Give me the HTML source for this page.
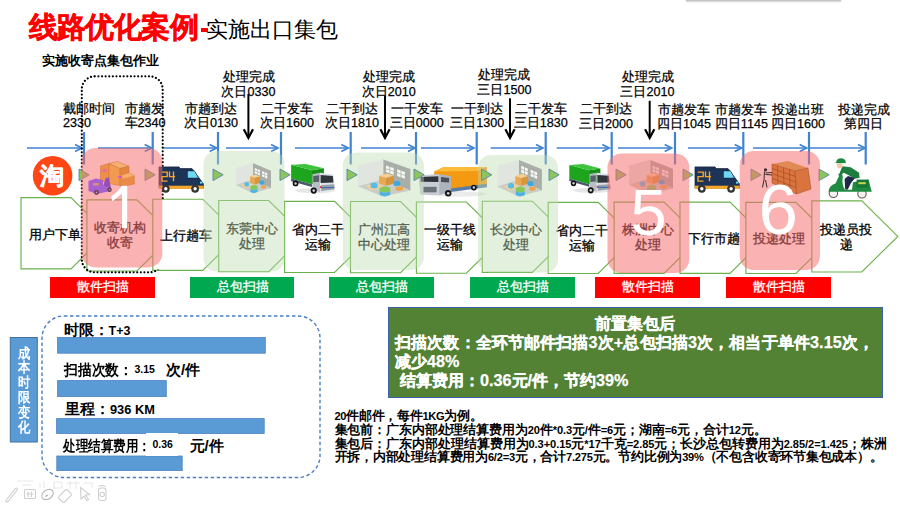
<!DOCTYPE html>
<html><head><meta charset="utf-8"><style>
html,body{margin:0;padding:0;background:#fff;}
body{width:900px;height:506px;position:relative;overflow:hidden;font-family:"Liberation Sans", sans-serif;color:#000;}
div{box-sizing:border-box}
.lbl{position:absolute;font-size:12.6px;line-height:14.2px;white-space:nowrap;color:#000;-webkit-text-stroke:0.25px #000}
.ct{position:absolute;font-size:13px;line-height:15px;-webkit-text-stroke:0.3px #000;text-align:center;display:flex;align-items:center;justify-content:center;white-space:nowrap;color:#000}
.bar{position:absolute;top:277px;height:21px;color:#fff;font-size:12.6px;line-height:20.5px;text-align:center;padding-left:1.5px;-webkit-text-stroke:0.3px #fff}
.num{position:absolute;color:#fff;font-size:56px;line-height:56px}
.vlab{position:absolute;left:10px;top:345.5px;width:28px;text-align:center;color:#fff;font-weight:bold;font-size:14px;line-height:14.85px;transform:scaleX(0.88)}
.pt{position:absolute;font-weight:bold;font-size:15px;line-height:18px;white-space:nowrap}
.lat{font-size:13px}
#gbox{position:absolute;left:388px;top:306.6px;width:495.2px;height:91.4px;background:#548235;border:1px solid #3a62a8;color:#fff;font-weight:bold;font-size:16.2px;line-height:19px;-webkit-text-stroke:0.25px #fff}
#notes{position:absolute;left:334.5px;top:410px;font-weight:bold;font-size:12.65px;line-height:13.8px;white-space:nowrap}
#notes>div{height:13.8px}
.n{font-size:11.1px}
svg{position:absolute;left:0;top:0}
</style></head><body>
<div style="position:absolute;left:28.8px;top:7px;white-space:nowrap;line-height:40px;color:#ff0000;font-weight:bold;font-size:28.5px;letter-spacing:-0.85px;-webkit-text-stroke:0.5px #ff0000">线路优化案例</div><div style="position:absolute;left:200.8px;top:28px;width:7.2px;height:3.5px;background:#ff0000"></div><div style="position:absolute;left:206px;top:10px;white-space:nowrap;line-height:40px;color:#000;font-size:21.5px">实施出口集包</div><div style="position:absolute;left:42px;top:52px;font-weight:bold;font-size:13.4px;line-height:18px;white-space:nowrap">实施收寄点集包作业</div><div class="lbl" style="left:63.1px;top:101.6px">截邮时间<br>2330</div><div class="lbl" style="left:124.5px;top:101.6px">市趟发<br>车2340</div><div class="lbl" style="left:171.0px;top:101.6px;width:80px;text-align:center">市趟到达<br>次日0130</div><div class="lbl" style="left:208.5px;top:70.3px;width:80px;text-align:center">处理完成<br>次日0330</div><div class="lbl" style="left:247.0px;top:101.6px;width:80px;text-align:center">二干发车<br>次日1600</div><div class="lbl" style="left:312.0px;top:101.6px;width:80px;text-align:center">二干到达<br>次日1810</div><div class="lbl" style="left:348.7px;top:70.3px;width:80px;text-align:center">处理完成<br>次日2010</div><div class="lbl" style="left:376.7px;top:101.6px;width:80px;text-align:center">一干发车<br>三日0000</div><div class="lbl" style="left:464.4px;top:68.3px;width:80px;text-align:center">处理完成<br>三日1500</div><div class="lbl" style="left:437.3px;top:102.1px;width:80px;text-align:center">一干到达<br>三日1300</div><div class="lbl" style="left:500.8px;top:102.1px;width:80px;text-align:center">二干发车<br>三日1830</div><div class="lbl" style="left:607.5px;top:70.3px;width:80px;text-align:center">处理完成<br>三日2010</div><div class="lbl" style="left:566.0px;top:102.3px;width:80px;text-align:center">二干到达<br>三日2000</div><div class="lbl" style="left:644.0px;top:102.6px;width:80px;text-align:center">市趟发车<br>四日1045</div><div class="lbl" style="left:701.4px;top:103.1px;width:80px;text-align:center">市趟发车<br>四日1145</div><div class="lbl" style="left:758.0px;top:103.1px;width:80px;text-align:center">投递出班<br>四日1600</div><div class="lbl" style="left:823.6px;top:103.1px;width:80px;text-align:center">投递完成<br>第四日</div>
<svg width="900" height="506" style="position:absolute;left:0;top:0"><polygon points="21.0,197.6 71.0,197.6 107.0,233.2 71.0,268.8 21.0,268.8" fill="#fff" stroke="#6cb24c" stroke-width="1.15"/><polygon points="86.9,199.8 136.9,199.8 172.9,235.4 136.9,271.0 86.9,271.0" fill="#fff" stroke="#6cb24c" stroke-width="1.15"/><polygon points="152.8,199.2 202.8,199.2 238.8,234.8 202.8,270.4 152.8,270.4" fill="#fff" stroke="#6cb24c" stroke-width="1.15"/><polygon points="218.7,200.5 268.7,200.5 304.7,236.1 268.7,271.7 218.7,271.7" fill="#fff" stroke="#6cb24c" stroke-width="1.15"/><polygon points="284.6,201.3 334.6,201.3 370.6,236.9 334.6,272.5 284.6,272.5" fill="#fff" stroke="#6cb24c" stroke-width="1.15"/><polygon points="350.5,201.5 400.5,201.5 436.5,237.1 400.5,272.7 350.5,272.7" fill="#fff" stroke="#6cb24c" stroke-width="1.15"/><polygon points="416.4,202.0 466.4,202.0 502.4,237.6 466.4,273.2 416.4,273.2" fill="#fff" stroke="#6cb24c" stroke-width="1.15"/><polygon points="482.3,201.2 532.3,201.2 568.3,236.8 532.3,272.4 482.3,272.4" fill="#fff" stroke="#6cb24c" stroke-width="1.15"/><polygon points="548.2,202.3 598.2,202.3 634.2,237.9 598.2,273.5 548.2,273.5" fill="#fff" stroke="#6cb24c" stroke-width="1.15"/><polygon points="614.1,202.1 664.1,202.1 700.1,237.7 664.1,273.3 614.1,273.3" fill="#fff" stroke="#6cb24c" stroke-width="1.15"/><polygon points="680.0,202.1 730.0,202.1 766.0,237.7 730.0,273.3 680.0,273.3" fill="#fff" stroke="#6cb24c" stroke-width="1.15"/><polygon points="745.9,202.3 795.9,202.3 831.9,237.9 795.9,273.5 745.9,273.5" fill="#fff" stroke="#6cb24c" stroke-width="1.15"/><polygon points="811.8,200.8 861.8,200.8 897.8,236.4 861.8,272.0 811.8,272.0" fill="#fff" stroke="#6cb24c" stroke-width="1.15"/><line x1="27" y1="148" x2="82" y2="148" stroke="#3f83d1" stroke-width="1.7"/><polyline points="75,144.4 82,148 75,151.6" fill="none" stroke="#3f83d1" stroke-width="1.7"/><line x1="98" y1="148" x2="151.7" y2="148" stroke="#3f83d1" stroke-width="1.7"/><polyline points="144.7,144.4 151.7,148 144.7,151.6" fill="none" stroke="#3f83d1" stroke-width="1.7"/><line x1="163" y1="148" x2="216.7" y2="148" stroke="#3f83d1" stroke-width="1.7"/><polyline points="209.7,144.4 216.7,148 209.7,151.6" fill="none" stroke="#3f83d1" stroke-width="1.7"/><line x1="226" y1="148" x2="278" y2="148" stroke="#3f83d1" stroke-width="1.7"/><polyline points="271,144.4 278,148 271,151.6" fill="none" stroke="#3f83d1" stroke-width="1.7"/><line x1="295" y1="148" x2="348.3" y2="148" stroke="#3f83d1" stroke-width="1.7"/><polyline points="341.3,144.4 348.3,148 341.3,151.6" fill="none" stroke="#3f83d1" stroke-width="1.7"/><line x1="361" y1="148" x2="415" y2="148" stroke="#3f83d1" stroke-width="1.7"/><polyline points="408,144.4 415,148 408,151.6" fill="none" stroke="#3f83d1" stroke-width="1.7"/><line x1="421" y1="148" x2="474" y2="148" stroke="#3f83d1" stroke-width="1.7"/><polyline points="467,144.4 474,148 467,151.6" fill="none" stroke="#3f83d1" stroke-width="1.7"/><line x1="490.7" y1="148" x2="543" y2="148" stroke="#3f83d1" stroke-width="1.7"/><polyline points="536,144.4 543,148 536,151.6" fill="none" stroke="#3f83d1" stroke-width="1.7"/><line x1="556.7" y1="148" x2="609.3" y2="148" stroke="#3f83d1" stroke-width="1.7"/><polyline points="602.3,144.4 609.3,148 602.3,151.6" fill="none" stroke="#3f83d1" stroke-width="1.7"/><line x1="618" y1="148" x2="671.7" y2="148" stroke="#3f83d1" stroke-width="1.7"/><polyline points="664.7,144.4 671.7,148 664.7,151.6" fill="none" stroke="#3f83d1" stroke-width="1.7"/><line x1="688" y1="148" x2="741.7" y2="148" stroke="#3f83d1" stroke-width="1.7"/><polyline points="734.7,144.4 741.7,148 734.7,151.6" fill="none" stroke="#3f83d1" stroke-width="1.7"/><line x1="753" y1="148" x2="806.7" y2="148" stroke="#3f83d1" stroke-width="1.7"/><polyline points="799.7,144.4 806.7,148 799.7,151.6" fill="none" stroke="#3f83d1" stroke-width="1.7"/><line x1="810" y1="148" x2="865" y2="148" stroke="#3f83d1" stroke-width="1.7"/><polyline points="858,144.4 865,148 858,151.6" fill="none" stroke="#3f83d1" stroke-width="1.7"/><line x1="84" y1="132" x2="84" y2="164.5" stroke="#3f83d1" stroke-width="2.2"/><line x1="152.7" y1="132" x2="152.7" y2="164.5" stroke="#3f83d1" stroke-width="2.2"/><line x1="218" y1="132" x2="218" y2="164.5" stroke="#3f83d1" stroke-width="2.2"/><line x1="281" y1="132" x2="281" y2="164.5" stroke="#3f83d1" stroke-width="2.2"/><line x1="350.7" y1="132" x2="350.7" y2="164.5" stroke="#3f83d1" stroke-width="2.2"/><line x1="416" y1="132" x2="416" y2="164.5" stroke="#3f83d1" stroke-width="2.2"/><line x1="476.7" y1="132" x2="476.7" y2="164.5" stroke="#3f83d1" stroke-width="2.2"/><line x1="545.7" y1="132" x2="545.7" y2="164.5" stroke="#3f83d1" stroke-width="2.2"/><line x1="611.7" y1="132" x2="611.7" y2="164.5" stroke="#3f83d1" stroke-width="2.2"/><line x1="675" y1="132" x2="675" y2="164.5" stroke="#3f83d1" stroke-width="2.2"/><line x1="743.3" y1="132" x2="743.3" y2="164.5" stroke="#3f83d1" stroke-width="2.2"/><line x1="809" y1="132" x2="809" y2="164.5" stroke="#3f83d1" stroke-width="2.2"/><line x1="865.7" y1="132" x2="865.7" y2="164.5" stroke="#3f83d1" stroke-width="2.2"/><line x1="248.4" y1="94" x2="248.4" y2="137.5" stroke="#000" stroke-width="2"/><polyline points="243.8,129.2 248.4,138.0 253.0,129.2" fill="none" stroke="#000" stroke-width="2.2"/><line x1="385" y1="95.8" x2="385" y2="137.5" stroke="#000" stroke-width="2"/><polyline points="380.4,129.2 385,138.0 389.6,129.2" fill="none" stroke="#000" stroke-width="2.2"/><line x1="510" y1="98.3" x2="510" y2="137.5" stroke="#000" stroke-width="2"/><polyline points="505.4,129.2 510,138.0 514.6,129.2" fill="none" stroke="#000" stroke-width="2.2"/><line x1="649.7" y1="100.8" x2="649.7" y2="137.5" stroke="#000" stroke-width="2"/><polyline points="645.1,129.2 649.7,138.0 654.3000000000001,129.2" fill="none" stroke="#000" stroke-width="2.2"/><mask id="dm"><rect x="0" y="0" width="900" height="506" fill="#fff"/><rect x="153.5" y="199.3" width="65" height="70.3" fill="#000"/></mask><rect x="81.8" y="76.3" width="80.9" height="196" rx="13" fill="none" stroke="#000" stroke-width="2.2" stroke-dasharray="0.01 3.6" stroke-linecap="round" mask="url(#dm)"/><g transform="translate(418.4,166.6) scale(0.6850,0.6864)"><ellipse cx="55" cy="40" rx="45" ry="4" fill="#d8d8d8" opacity="0.5"/><polygon points="23,7 37,0.6 100,0.6 100,27 47,35 23,33" fill="#f39a12"/><polygon points="23,7 37,0.6 100,0.6 86,6.5" fill="#fdbb3a"/><polygon points="47,32 100,25 100,30 47,37" fill="#5a7ca6"/><polygon points="0,13 30.5,11 47.4,13.6 47.4,37.6 30.5,41.5 3.2,40.2" fill="#aeb4bd"/><polygon points="0,13 30.5,11 30.5,41.5 3.2,40.2" fill="#c9ced5"/><polygon points="3.2,15 29.2,14 29.2,22.5 3.2,22" fill="#30343c"/><rect x="7" y="29.5" width="19.6" height="8" fill="#6c727a"/><polygon points="33,15 44.8,16.5 44.8,23 33,22.5" fill="#4a5058"/><circle cx="43.5" cy="38.9" r="4.7" fill="#151515"/><circle cx="43.5" cy="38.9" r="2" fill="#ccc"/><circle cx="81" cy="30.5" r="4.2" fill="#151515"/><circle cx="81" cy="30.5" r="1.8" fill="#ccc"/></g></svg>
<div class="ct" style="left:14.5px;top:219.0px;height:30px;width:80px">用户下单</div><div class="ct" style="left:80.4px;top:220.2px;height:30px;width:80px">收寄机构<br>收寄</div><div class="ct" style="left:146.3px;top:220.3px;height:30px;width:80px">上行趟车</div><div class="ct" style="left:212.2px;top:221.2px;height:30px;width:80px">东莞中心<br>处理</div><div class="ct" style="left:278.1px;top:222.1px;height:30px;width:80px">省内二干<br>运输</div><div class="ct" style="left:344.0px;top:221.7px;height:30px;width:80px">广州江高<br>中心处理</div><div class="ct" style="left:409.9px;top:222.4px;height:30px;width:80px">一级干线<br>运输</div><div class="ct" style="left:475.8px;top:221.7px;height:30px;width:80px">长沙中心<br>处理</div><div class="ct" style="left:541.7px;top:222.5px;height:30px;width:80px">省内二干<br>运输</div><div class="ct" style="left:607.6px;top:222.0px;height:30px;width:80px">株洲中心<br>处理</div><div class="ct" style="left:673.5px;top:223.6px;height:30px;width:80px">下行市趟</div><div class="ct" style="left:739.4px;top:223.8px;height:30px;width:80px">投递处理</div><div class="ct" style="left:806.3px;top:222.0px;height:30px;width:80px">投递员投<br>递</div>
<svg width="900" height="506" style="position:absolute;left:0;top:0"><rect x="203.5" y="151" width="81.1" height="120.5" rx="13" fill="rgb(191,219,176)" fill-opacity="0.42"/><rect x="342.8" y="152.5" width="81.1" height="117.5" rx="13" fill="rgb(191,219,176)" fill-opacity="0.42"/><rect x="478" y="155" width="80.0" height="117.5" rx="13" fill="rgb(191,219,176)" fill-opacity="0.42"/></svg>
<svg width="900" height="506" style="position:absolute;left:0;top:0"><polygon points="79,169 89.2,174.8 79,180.6" fill="#8cc55c" stroke="#5a86a8" stroke-width="0.9"/><polygon points="145,169 155.2,174.8 145,180.6" fill="#8cc55c" stroke="#5a86a8" stroke-width="0.9"/><polygon points="213,169 223.2,174.8 213,180.6" fill="#8cc55c" stroke="#5a86a8" stroke-width="0.9"/><polygon points="280,169 290.2,174.8 280,180.6" fill="#8cc55c" stroke="#5a86a8" stroke-width="0.9"/><polygon points="347,169 357.2,174.8 347,180.6" fill="#8cc55c" stroke="#5a86a8" stroke-width="0.9"/><polygon points="414,169 424.2,174.8 414,180.6" fill="#8cc55c" stroke="#5a86a8" stroke-width="0.9"/><polygon points="481.6,169 491.8,174.8 481.6,180.6" fill="#8cc55c" stroke="#5a86a8" stroke-width="0.9"/><polygon points="549,169 559.2,174.8 549,180.6" fill="#8cc55c" stroke="#5a86a8" stroke-width="0.9"/><polygon points="616,169 626.2,174.8 616,180.6" fill="#8cc55c" stroke="#5a86a8" stroke-width="0.9"/><polygon points="683,169 693.2,174.8 683,180.6" fill="#8cc55c" stroke="#5a86a8" stroke-width="0.9"/><polygon points="751,169 761.2,174.8 751,180.6" fill="#8cc55c" stroke="#5a86a8" stroke-width="0.9"/><polygon points="819,169 829.2,174.8 819,180.6" fill="#8cc55c" stroke="#5a86a8" stroke-width="0.9"/><g transform="translate(235.6,163) scale(0.3540,0.3775)"><polygon points="1,13 48,0 48,50 1,58" fill="#e1e5df"/><polygon points="49,0 100,20.5 100,67 49,43" fill="#a9aea8"/><polygon points="1,58 49,43 100,67 48,80" fill="#c9cdc7"/><polygon points="54,13.0 60.5,15.6 60.5,22.0 54,19.4" fill="#f6f8f4"/><polygon points="54,21.0 60.5,23.6 60.5,30.0 54,27.4" fill="#f6f8f4"/><polygon points="62,16.2 68.5,18.8 68.5,25.2 62,22.6" fill="#f6f8f4"/><polygon points="62,24.2 68.5,26.8 68.5,33.2 62,30.6" fill="#f6f8f4"/><polygon points="75,21.5 81.5,24.1 81.5,30.5 75,27.9" fill="#f6f8f4"/><polygon points="75,29.5 81.5,32.1 81.5,38.5 75,35.9" fill="#f6f8f4"/><polygon points="83,24.7 89.5,27.3 89.5,33.7 83,31.1" fill="#f6f8f4"/><polygon points="83,32.7 89.5,35.300000000000004 89.5,41.7 83,39.1" fill="#f6f8f4"/><polygon points="15,57 38,51 50,60 27,67" fill="#f3d09a"/><polygon points="41,35 56,30.5 69,35.5 54,40" fill="#f7cf90"/><polygon points="41,35 54,40 54,57 41,52" fill="#eaa850"/><polygon points="54,40 69,35.5 69,52 54,57" fill="#d8953e"/><polygon points="25,52 32,50 38,52.5 38,61 31,63 25,60.5" fill="#55bde9"/><polygon points="68,48 75,46 81,48.5 81,56 74,58 68,55.5" fill="#3ba9df"/><polygon points="72,60 80,58 86,60 86,66 78,68 72,66" fill="#eda44a"/><polygon points="42,61 52,58 62,61 62,69 52,72 42,69" fill="#86c95a"/><polygon points="42,69 52,72 62,69 62,77 52,80 42,77" fill="#4db3e3"/></g><g transform="translate(357.4,159.4) scale(0.5300,0.4637)"><polygon points="1,13 48,0 48,50 1,58" fill="#e1e5df"/><polygon points="49,0 100,20.5 100,67 49,43" fill="#a9aea8"/><polygon points="1,58 49,43 100,67 48,80" fill="#c9cdc7"/><polygon points="54,13.0 60.5,15.6 60.5,22.0 54,19.4" fill="#f6f8f4"/><polygon points="54,21.0 60.5,23.6 60.5,30.0 54,27.4" fill="#f6f8f4"/><polygon points="62,16.2 68.5,18.8 68.5,25.2 62,22.6" fill="#f6f8f4"/><polygon points="62,24.2 68.5,26.8 68.5,33.2 62,30.6" fill="#f6f8f4"/><polygon points="75,21.5 81.5,24.1 81.5,30.5 75,27.9" fill="#f6f8f4"/><polygon points="75,29.5 81.5,32.1 81.5,38.5 75,35.9" fill="#f6f8f4"/><polygon points="83,24.7 89.5,27.3 89.5,33.7 83,31.1" fill="#f6f8f4"/><polygon points="83,32.7 89.5,35.300000000000004 89.5,41.7 83,39.1" fill="#f6f8f4"/><polygon points="15,57 38,51 50,60 27,67" fill="#f3d09a"/><polygon points="41,35 56,30.5 69,35.5 54,40" fill="#f7cf90"/><polygon points="41,35 54,40 54,57 41,52" fill="#eaa850"/><polygon points="54,40 69,35.5 69,52 54,57" fill="#d8953e"/><polygon points="25,52 32,50 38,52.5 38,61 31,63 25,60.5" fill="#55bde9"/><polygon points="68,48 75,46 81,48.5 81,56 74,58 68,55.5" fill="#3ba9df"/><polygon points="72,60 80,58 86,60 86,66 78,68 72,66" fill="#eda44a"/><polygon points="42,61 52,58 62,61 62,69 52,72 42,69" fill="#86c95a"/><polygon points="42,69 52,72 62,69 62,77 52,80 42,77" fill="#4db3e3"/></g><g transform="translate(496.9,159.9) scale(0.4500,0.4575)"><polygon points="1,13 48,0 48,50 1,58" fill="#e1e5df"/><polygon points="49,0 100,20.5 100,67 49,43" fill="#a9aea8"/><polygon points="1,58 49,43 100,67 48,80" fill="#c9cdc7"/><polygon points="54,13.0 60.5,15.6 60.5,22.0 54,19.4" fill="#f6f8f4"/><polygon points="54,21.0 60.5,23.6 60.5,30.0 54,27.4" fill="#f6f8f4"/><polygon points="62,16.2 68.5,18.8 68.5,25.2 62,22.6" fill="#f6f8f4"/><polygon points="62,24.2 68.5,26.8 68.5,33.2 62,30.6" fill="#f6f8f4"/><polygon points="75,21.5 81.5,24.1 81.5,30.5 75,27.9" fill="#f6f8f4"/><polygon points="75,29.5 81.5,32.1 81.5,38.5 75,35.9" fill="#f6f8f4"/><polygon points="83,24.7 89.5,27.3 89.5,33.7 83,31.1" fill="#f6f8f4"/><polygon points="83,32.7 89.5,35.300000000000004 89.5,41.7 83,39.1" fill="#f6f8f4"/><polygon points="15,57 38,51 50,60 27,67" fill="#f3d09a"/><polygon points="41,35 56,30.5 69,35.5 54,40" fill="#f7cf90"/><polygon points="41,35 54,40 54,57 41,52" fill="#eaa850"/><polygon points="54,40 69,35.5 69,52 54,57" fill="#d8953e"/><polygon points="25,52 32,50 38,52.5 38,61 31,63 25,60.5" fill="#55bde9"/><polygon points="68,48 75,46 81,48.5 81,56 74,58 68,55.5" fill="#3ba9df"/><polygon points="72,60 80,58 86,60 86,66 78,68 72,66" fill="#eda44a"/><polygon points="42,61 52,58 62,61 62,69 52,72 42,69" fill="#86c95a"/><polygon points="42,69 52,72 62,69 62,77 52,80 42,77" fill="#4db3e3"/></g><g transform="translate(628.5,160) scale(0.4450,0.4250)"><polygon points="1,13 48,0 48,50 1,58" fill="#e1e5df"/><polygon points="49,0 100,20.5 100,67 49,43" fill="#a9aea8"/><polygon points="1,58 49,43 100,67 48,80" fill="#c9cdc7"/><polygon points="54,13.0 60.5,15.6 60.5,22.0 54,19.4" fill="#f6f8f4"/><polygon points="54,21.0 60.5,23.6 60.5,30.0 54,27.4" fill="#f6f8f4"/><polygon points="62,16.2 68.5,18.8 68.5,25.2 62,22.6" fill="#f6f8f4"/><polygon points="62,24.2 68.5,26.8 68.5,33.2 62,30.6" fill="#f6f8f4"/><polygon points="75,21.5 81.5,24.1 81.5,30.5 75,27.9" fill="#f6f8f4"/><polygon points="75,29.5 81.5,32.1 81.5,38.5 75,35.9" fill="#f6f8f4"/><polygon points="83,24.7 89.5,27.3 89.5,33.7 83,31.1" fill="#f6f8f4"/><polygon points="83,32.7 89.5,35.300000000000004 89.5,41.7 83,39.1" fill="#f6f8f4"/><polygon points="15,57 38,51 50,60 27,67" fill="#f3d09a"/><polygon points="41,35 56,30.5 69,35.5 54,40" fill="#f7cf90"/><polygon points="41,35 54,40 54,57 41,52" fill="#eaa850"/><polygon points="54,40 69,35.5 69,52 54,57" fill="#d8953e"/><polygon points="25,52 32,50 38,52.5 38,61 31,63 25,60.5" fill="#55bde9"/><polygon points="68,48 75,46 81,48.5 81,56 74,58 68,55.5" fill="#3ba9df"/><polygon points="72,60 80,58 86,60 86,66 78,68 72,66" fill="#eda44a"/><polygon points="42,61 52,58 62,61 62,69 52,72 42,69" fill="#86c95a"/><polygon points="42,69 52,72 62,69 62,77 52,80 42,77" fill="#4db3e3"/></g><g transform="translate(290.7,163.9) scale(0.4430,0.4448)"><ellipse cx="55" cy="60" rx="45" ry="6" fill="#d4d4d4" opacity="0.55"/><polygon points="1,2 48,14 48,46 1,33" fill="#1ea51e"/><polygon points="48,14 75,10 75,40 48,46" fill="#178f17"/><polygon points="1,2 34,0 75,10 48,14" fill="#3cc43c"/><polygon points="1,33 48,46 48,52 1,39" fill="#4b586c"/><polygon points="49,23 66,20 66,64 49,56" fill="#b9bec6"/><polygon points="66,20 96,23 100,56 68,64" fill="#dfe2e7"/><polygon points="51,27 64,25.5 64,40 51,41" fill="#5a6069"/><polygon points="67.5,25 95,27 96.5,42 68,43" fill="#30353d"/><polygon points="68,48 98,46 99,57 69,61" fill="#9aa0a8"/><rect x="68" y="52" width="30" height="2.5" fill="#3b6ab5"/><rect x="66" y="50" width="3" height="4" fill="#e03030"/><circle cx="11" cy="44" r="6.5" fill="#111"/><circle cx="11" cy="44" r="2.8" fill="#d0d0d0"/><circle cx="52" cy="60" r="7" fill="#111"/><circle cx="52" cy="60" r="3" fill="#d0d0d0"/></g><g transform="translate(568.9,164) scale(0.4200,0.4388)"><ellipse cx="55" cy="60" rx="45" ry="6" fill="#d4d4d4" opacity="0.55"/><polygon points="1,2 48,14 48,46 1,33" fill="#1ea51e"/><polygon points="48,14 75,10 75,40 48,46" fill="#178f17"/><polygon points="1,2 34,0 75,10 48,14" fill="#3cc43c"/><polygon points="1,33 48,46 48,52 1,39" fill="#4b586c"/><polygon points="49,23 66,20 66,64 49,56" fill="#b9bec6"/><polygon points="66,20 96,23 100,56 68,64" fill="#dfe2e7"/><polygon points="51,27 64,25.5 64,40 51,41" fill="#5a6069"/><polygon points="67.5,25 95,27 96.5,42 68,43" fill="#30353d"/><polygon points="68,48 98,46 99,57 69,61" fill="#9aa0a8"/><rect x="68" y="52" width="30" height="2.5" fill="#3b6ab5"/><rect x="66" y="50" width="3" height="4" fill="#e03030"/><circle cx="11" cy="44" r="6.5" fill="#111"/><circle cx="11" cy="44" r="2.8" fill="#d0d0d0"/><circle cx="52" cy="60" r="7" fill="#111"/><circle cx="52" cy="60" r="3" fill="#d0d0d0"/></g><g transform="translate(159,166.6)"><polygon points="0,0.3 20,0.3 21.5,2 33,2 44.3,17 44.5,21.5 0,21.5" fill="#1c3458" stroke="#101e33" stroke-width="0.7"/><polygon points="28.5,4.3 35.5,4.3 39.5,11.5 28.5,11.5" fill="#6fd8f3" stroke="#101e33" stroke-width="0.5"/><rect x="-0.3" y="19.1" width="45" height="3.2" fill="#f4a62a"/><path d="M2.8,5.5 H8.2 V10 H3 V14.5 H8.5 M10.5,5 V10 H16 M14.5,5 V14.6" fill="none" stroke="#f4a62a" stroke-width="1.4"/><circle cx="6.8" cy="22.2" r="3.9" fill="#333"/><circle cx="6.8" cy="22.2" r="1.7" fill="#fff"/><circle cx="36.1" cy="22.2" r="3.9" fill="#333"/><circle cx="36.1" cy="22.2" r="1.7" fill="#fff"/><rect x="41" y="15" width="2.5" height="2" fill="#6fd8f3"/></g><g transform="translate(695,166.6)"><polygon points="0,0.3 20,0.3 21.5,2 33,2 44.3,17 44.5,21.5 0,21.5" fill="#1c3458" stroke="#101e33" stroke-width="0.7"/><polygon points="28.5,4.3 35.5,4.3 39.5,11.5 28.5,11.5" fill="#6fd8f3" stroke="#101e33" stroke-width="0.5"/><rect x="-0.3" y="19.1" width="45" height="3.2" fill="#f4a62a"/><path d="M2.8,5.5 H8.2 V10 H3 V14.5 H8.5 M10.5,5 V10 H16 M14.5,5 V14.6" fill="none" stroke="#f4a62a" stroke-width="1.4"/><circle cx="6.8" cy="22.2" r="3.9" fill="#333"/><circle cx="6.8" cy="22.2" r="1.7" fill="#fff"/><circle cx="36.1" cy="22.2" r="3.9" fill="#333"/><circle cx="36.1" cy="22.2" r="1.7" fill="#fff"/><rect x="41" y="15" width="2.5" height="2" fill="#6fd8f3"/></g><circle cx="52.6" cy="175.7" r="19.8" fill="#ff4614"/><text x="52.4" y="184" text-anchor="middle" font-weight="bold" font-size="23.5" fill="#fff" stroke="#fff" stroke-width="0.55" stroke-linejoin="round">淘</text><g><circle cx="833.4" cy="193.3" r="4.2" fill="#f2f2f2" stroke="#6d5a52" stroke-width="1.1"/><circle cx="862" cy="193.8" r="4.2" fill="#f2f2f2" stroke="#6d5a52" stroke-width="1.1"/><path d="M828.5,191.8 Q829,185.5 835.5,183.5 L839,176 L838.2,174 L841.8,173.6 L842.8,176.5 Q841.5,185 845,189.8 L852,189.8 L853,182.3 L868.5,179.5 L871.8,191.8 Z" fill="#1f8b41"/><rect x="856.6" y="179.6" width="11.8" height="8" fill="#17773a"/><rect x="858.3" y="182.2" width="7.5" height="2" fill="#c9d64a"/><path d="M842.3,166.3 L850.7,167.3 L859.1,172.7 L859.6,177.7 L854.7,178.7 L848.7,175.2 L843.8,172.7 L840,175.5 L839.2,174.2 Z" fill="#1c7d3e"/><path d="M848,176 L855,178 L851,183 L847.8,189.5 L845.2,189.5 L844.6,179 Z" fill="#1d2747"/><path d="M836.4,164 L842.3,163.6 L842.5,167.5 L838,168.5 Z" fill="#f0c7a2"/><path d="M836,162.6 Q836.5,158.2 841.5,158.3 Q846,158.8 845.8,163 L838,163.3 L834.5,162.8 Z" fill="#1b8b3e"/></g></svg>
<svg width="900" height="506" style="position:absolute;left:0;top:0"><rect x="81.4" y="148" width="80.9" height="119.4" rx="14" fill="rgb(245,110,110)" fill-opacity="0.53"/><rect x="607.5" y="153.5" width="81.8" height="119.5" rx="14" fill="rgb(245,110,110)" fill-opacity="0.53"/><rect x="739.7" y="151" width="80.3" height="119.0" rx="14" fill="rgb(245,110,110)" fill-opacity="0.53"/><g><polygon points="100.5,166 109,163.5 109,183.5 100.5,181" fill="#ec8f48" stroke="#d0703a" stroke-width="0.5"/><polygon points="109,163.5 120,168.5 120,185.5 109,183.5" fill="#f29a52" stroke="#d0703a" stroke-width="0.5"/><polygon points="109,163.5 117.5,161.5 129,166.3 120,168.5" fill="#f6b070" stroke="#d0703a" stroke-width="0.5"/><polygon points="120,168.5 129,166.3 129,173 120,176" fill="#e5843f" stroke="#d0703a" stroke-width="0.5"/><polygon points="120,176 129,173 134.3,175.5 134.3,184 123,186.5 120,185.5" fill="#ea8c48" stroke="#d0703a" stroke-width="0.5"/><polygon points="120,176 129,173 134.3,175.5 124,178.5" fill="#f5ad70"/><rect x="102.5" y="169" width="4" height="3" fill="#e86aa0"/><rect x="118" y="176" width="4" height="2" fill="#d860b0"/><polygon points="88.5,181 96,178.5 103,180 103,186 111,188.5 110,191 97,194 88.5,191" fill="#a660cf"/><polygon points="103,186 106,178 109,177.5 111,188.5" fill="#9450b8"/><rect x="93" y="183" width="6" height="2.5" fill="#d98a8a"/><circle cx="96.5" cy="192.5" r="2.4" fill="#6a3a50"/><circle cx="96.5" cy="192.5" r="0.9" fill="#d0a0b0"/><circle cx="109.5" cy="189.8" r="2.2" fill="#6a3a50"/><circle cx="109.5" cy="189.8" r="0.8" fill="#d0a0b0"/></g><g><polygon points="772,164 788,161 808,168 795,171" fill="#e28a55"/><polygon points="772,164 795,171 796.5,194 772,183" fill="#dc7440" stroke="#9c4a22" stroke-width="0.5"/><polygon points="795,171 808,168 811,189 796.5,194" fill="#d9743e" stroke="#9c4a22" stroke-width="0.5"/><path d="M777.5,165.7 L778,185.5 M783.5,167.5 L784,188.3 M789.5,169.2 L790,191 M772,168.5 L795.5,176.5 M772,173.5 L795.8,182 M772,178.3 L796,187.5" stroke="#a85228" stroke-width="0.8" fill="none"/><circle cx="765.5" cy="169.8" r="1.6" fill="#3a2a2a"/><path d="M764.5,171.5 L764,180 L762.5,187.5 M765.5,180 L767,187.5 M765.5,173 L772,172.5 M765.5,174.5 L772,175" fill="none" stroke="#3a2a2a" stroke-width="1"/></g></svg>
<div class="num" style="left:630.4px;top:180.3px;font-size:65px;line-height:65px">5</div><div class="num" style="left:758.4px;top:174px;font-size:71px;line-height:71px">6</div><svg width="900" height="506"><path d="M122,185.7 L127.2,185.7 L127.2,228.3 L122,228.3 L122,193.5 Q117,198 112.3,201.3 L111.2,196.6 Q117.5,192.5 122,185.7 Z" fill="#fff"/></svg>
<div class="bar" style="left:50px;width:105px;background:#ff0000">散件扫描</div><div class="bar" style="left:190px;width:104px;background:#00a84f">总包扫描</div><div class="bar" style="left:329px;width:105px;background:#00a84f">总包扫描</div><div class="bar" style="left:470px;width:105px;background:#00a84f">总包扫描</div><div class="bar" style="left:595px;width:105px;background:#ff0000">散件扫描</div><div class="bar" style="left:726px;width:105px;background:#ff0000">散件扫描</div>
<svg style="position:absolute;left:0;top:0" width="900" height="506"><rect x="42" y="316" width="278" height="161.5" rx="22" fill="none" stroke="#4a7fc0" stroke-width="1.4" stroke-dasharray="3.5 2.5"/><rect x="10.3" y="337.5" width="27" height="104.5" fill="#5b9bd5" stroke="#41719c" stroke-width="1"/><rect x="57.6" y="337.5" width="207.7" height="15.7" fill="#5b9bd5" stroke="#4a82c0" stroke-width="0.8"/><rect x="57.6" y="380.6" width="108.7" height="16" fill="#5b9bd5" stroke="#4a82c0" stroke-width="0.8"/><rect x="56.6" y="418.6" width="207.6" height="14.9" fill="#5b9bd5" stroke="#4a82c0" stroke-width="0.8"/><rect x="56.8" y="456" width="125.4" height="14.6" fill="#5b9bd5" stroke="#4a82c0" stroke-width="0.8"/></svg><div class="vlab">成<br>本<br>时<br>限<br>变<br>化</div><div style="position:absolute;left:146px;top:432.6px;width:32px;height:23px;background:#fff"></div><div class="pt" style="left:63.5px;top:321px">时限：<span class="lat" style="font-size:12.5px">T+3</span></div><div class="pt" style="left:63.5px;top:361px;transform:scaleX(0.92);transform-origin:0 0">扫描次数：</div><div class="pt" style="left:134.5px;top:359.5px;font-size:10.5px">3.15</div><div class="pt" style="left:166px;top:361px">次/件</div><div class="pt" style="left:65px;top:400px">里程：<span class="lat" style="font-size:12.8px">936 KM</span></div><div class="pt" style="left:62.5px;top:436.5px;transform:scaleX(0.835);transform-origin:0 0">处理结算费用：</div><div class="pt" style="left:152.5px;top:434.5px;font-size:10.5px">0.36</div><div class="pt" style="left:189.5px;top:436.5px">元/件</div>
<div id="gbox"><div style="position:absolute;left:-1px;top:6.5px;width:100%;text-align:center">前置集包后</div><div style="position:absolute;left:6px;top:25.8px;white-space:nowrap;letter-spacing:0.13px">扫描次数：全环节邮件扫描3次+总包扫描3次，相当于单件3.15次，</div><div style="position:absolute;left:6px;top:44.8px;white-space:nowrap">减少48%</div><div style="position:absolute;left:11px;top:63.5px;white-space:nowrap">结算费用：0.36元/件，节约39%</div></div>
<div id="notes"><div style="letter-spacing:-0.3px"><span class="nl"><span class="n">20</span>件邮件，每件<span class="n">1KG</span>为例。</span></div><div style="letter-spacing:-0.12px"><span class="nl">集包前：广东内部处理结算费用为<span class="n">20</span>件<span class="n">*0.3</span>元<span class="n">/</span>件<span class="n">=6</span>元；湖南<span class="n">=6</span>元，合计<span class="n">12</span>元。</span></div><div style="letter-spacing:-0.07px"><span class="nl">集包后：广东内部处理结算费用为<span class="n">0.3+0.15</span>元<span class="n">*17</span>千克<span class="n">=2.85</span>元；长沙总包转费用为<span class="n">2.85/2=1.425</span>；株洲</span></div><div style="letter-spacing:-0.22px"><span class="nl">开拆，内部处理结算费用为<span class="n">6/2=3</span>元，合计<span class="n">7.275</span>元。节约比例为<span class="n">39%</span>（不包含收寄环节集包成本）。</span></div></div>
<svg width="900" height="506" style="position:absolute;left:0;top:0"><g fill="none" stroke="#cfcfcf" stroke-width="1.1"><path d="M6,500.5 L15.5,488.5 Q17.5,487 17.5,489.5 L8,501.5 Q5.5,503 6,500.5 Z"/><rect x="24.5" y="489.5" width="11" height="9" rx="1"/><path d="M26.5,494 H33.5 M28,491.5 V497 M31.5,491.5 V497"/><ellipse cx="47.5" cy="494.5" rx="6.3" ry="4.5" transform="rotate(-35 47.5 494.5)" stroke="#b8b8b8"/><path d="M45.5,496.5 L47.5,495" stroke="#999"/><rect x="61" y="490" width="8" height="12" rx="1.5" transform="rotate(45 65 496)"/><path d="M80.5,487.5 L81,499 L84,496 L87,500.5 L88.5,499.5 L85.5,495 L89.5,494.5 Z"/><rect x="98.5" y="488" width="7.5" height="12.5" rx="2.5"/><circle cx="102.2" cy="494.5" r="2.2"/><path d="M98.5,486.5 Q102,484.5 105.5,486.5" /></g><g fill="none" stroke="#e4e4e4" stroke-width="0.9"><path d="M17,481 H33 M22,485 H31 M40,483 V488 M44,481 V488 M54,482 H62 V488 H54 Z M67,483 H80 M70,481 V489 M76,481 V489 M84,483 H92 V488"/></g></svg>
<div style="position:absolute;left:686px;top:-1px;width:155px;height:2px;background:#c4c4c4;box-shadow:0 1px 2px rgba(0,0,0,0.2)"></div>
</body></html>
